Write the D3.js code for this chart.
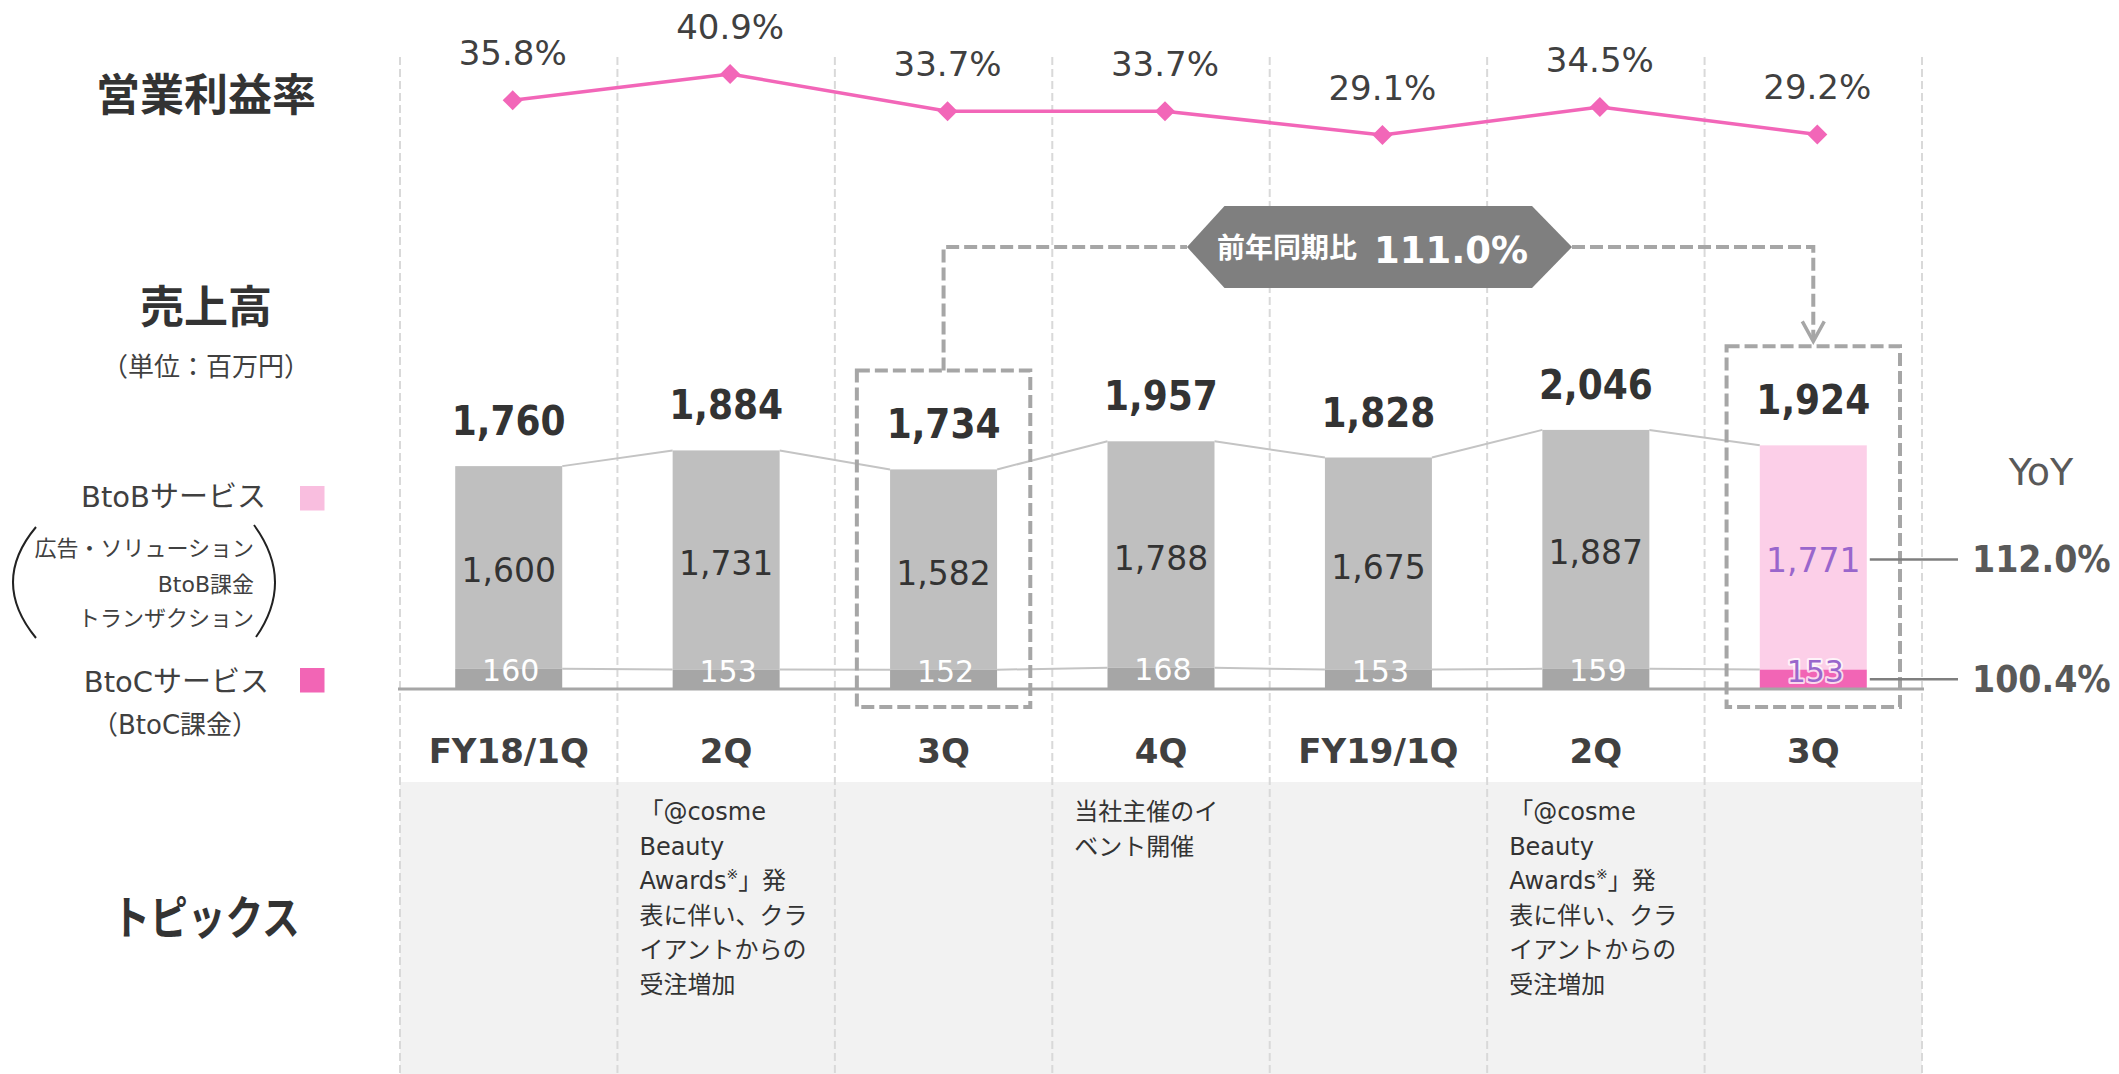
<!DOCTYPE html>
<html><head><meta charset="utf-8">
<script src="https://cdn.jsdelivr.net/npm/d3@7"></script>
<style>
html,body{margin:0;padding:0;background:#fff;}
svg{display:block;}
</style></head>
<body>
<svg id="chart" width="2119" height="1074"></svg>
<script>
// ---- data ----
const categories = ["FY18/1Q","2Q","3Q","4Q","FY19/1Q","2Q","3Q"];
const btobValues = [1600,1731,1582,1788,1675,1887,1771];
const btocValues = [160,153,152,168,153,159,153];
const totalValues = [1760,1884,1734,1957,1828,2046,1924];
const marginValues = [35.8,40.9,33.7,33.7,29.1,34.5,29.2];
const topicLines = [
  [],
  ["「@cosme","Beauty","Awards※」発","表に伴い、クラ","イアントからの","受注増加"],
  [],
  ["当社主催のイ","ベント開催"],
  [],
  ["「@cosme","Beauty","Awards※」発","表に伴い、クラ","イアントからの","受注増加"],
  []
];
const yoyLabels = ["112.0%","100.4%"];
const yoyTotalLabel = "111.0%";
const compareIndex = 2, highlightIndex = 6;

// ---- fonts / colors ----
const NUM = "'DejaVu Sans', sans-serif";
const NUMC = "'DejaVu Sans Condensed', 'DejaVu Sans', sans-serif";
const JP = "'Noto Sans CJK JP', sans-serif";
const MIX = "'DejaVu Sans', 'Noto Sans CJK JP', sans-serif";
const TXT = "#404040";

const svg = d3.select("#chart");
const W = 2119, H = 1074;

const x = d3.scaleBand().domain(d3.range(categories.length)).range([400, 1922]).paddingInner(0).paddingOuter(0);
const barW = 107;
const cx = i => x(i) + x.bandwidth() / 2;
const yBar = d3.scaleLinear().domain([0, 2200]).range([689, 410.4]);
const yPct = d3.scaleLinear().domain([0, 50]).range([285.4, 26.9]);

// topics background
svg.append("rect").attr("x", x.range()[0]).attr("y", 782)
  .attr("width", x.range()[1] - x.range()[0]).attr("height", H - 782).attr("fill", "#f2f2f2");

// dashed column separators
const seps = d3.range(categories.length + 1).map(i => x.range()[0] + i * x.step());
svg.append("g").selectAll("line").data(seps).join("line")
  .attr("x1", d => d).attr("x2", d => d).attr("y1", 57).attr("y2", H)
  .attr("stroke", "#d9d9d9").attr("stroke-width", 2).attr("stroke-dasharray", "8,4");

// bars
const stack = categories.map((c, i) => btocValues[i] + btobValues[i]);
const gb = svg.append("g");
categories.forEach((c, i) => {
  const hl = i === highlightIndex;
  gb.append("rect").attr("x", cx(i) - barW / 2).attr("width", barW)
    .attr("y", yBar(stack[i])).attr("height", yBar(btocValues[i]) - yBar(stack[i]))
    .attr("fill", hl ? "#fccfe8" : "#bfbfbf");
  gb.append("rect").attr("x", cx(i) - barW / 2).attr("width", barW)
    .attr("y", yBar(btocValues[i])).attr("height", yBar(0) - yBar(btocValues[i]))
    .attr("fill", hl ? "#f265b5" : "#a6a6a6");
});

// connectors between bars
const gc = svg.append("g").attr("stroke", "#c4c4c4").attr("stroke-width", 2);
for (let i = 0; i < categories.length - 1; i++) {
  gc.append("line").attr("x1", cx(i) + barW / 2).attr("y1", yBar(stack[i]))
    .attr("x2", cx(i + 1) - barW / 2).attr("y2", yBar(stack[i + 1]));
  gc.append("line").attr("x1", cx(i) + barW / 2).attr("y1", yBar(btocValues[i]))
    .attr("x2", cx(i + 1) - barW / 2).attr("y2", yBar(btocValues[i + 1]));
}

// baseline axis
svg.append("line").attr("x1", x.range()[0] - 2).attr("x2", x.range()[1] + 2)
  .attr("y1", yBar(0)).attr("y2", yBar(0)).attr("stroke", "#a6a6a6").attr("stroke-width", 3);

// value labels
const fmt = d3.format(",");
const gl = svg.append("g").attr("text-anchor", "middle");
categories.forEach((c, i) => {
  const hl = i === highlightIndex;
  gl.append("text").attr("x", cx(i)).attr("y", yBar(totalValues[i]) - 31)
    .attr("font-family", NUMC).attr("font-stretch", "condensed").attr("font-weight", "bold")
    .attr("font-size", 40).attr("fill", "#333").text(fmt(totalValues[i]));
  gl.append("text").attr("x", cx(i)).attr("y", (yBar(btocValues[i]) + yBar(stack[i])) / 2 + 15)
    .attr("font-family", NUM).attr("font-size", 33).attr("fill", hl ? "#9966cc" : "#333")
    .text(fmt(btobValues[i]));
  const t = gl.append("text").attr("x", cx(i) + 2).attr("y", yBar(btocValues[i]) + 12)
    .attr("font-family", NUM).attr("font-size", 30).attr("fill", hl ? "#9966cc" : "#fff")
    .text(fmt(btocValues[i]));
  if (hl) t.attr("stroke", "#fff").attr("stroke-width", 4).attr("stroke-opacity", 0.75)
    .attr("paint-order", "stroke").attr("stroke-linejoin", "round");
  gl.append("text").attr("x", cx(i)).attr("y", 763)
    .attr("font-family", NUM).attr("font-weight", "bold").attr("font-size", 34)
    .attr("fill", TXT).text(c);
});

// operating margin line
const px = i => cx(i) + 4;
svg.append("path").datum(marginValues)
  .attr("d", d3.line().x((d, i) => px(i)).y(d => yPct(d)))
  .attr("fill", "none").attr("stroke", "#f266b8").attr("stroke-width", 3.5).attr("stroke-linejoin", "round");
svg.append("g").selectAll("path").data(marginValues).join("path")
  .attr("d", "M0,-10L10,0L0,10L-10,0Z")
  .attr("transform", (d, i) => `translate(${px(i)},${yPct(d)})`)
  .attr("fill", "#f266b8");
svg.append("g").attr("text-anchor", "middle").selectAll("text").data(marginValues).join("text")
  .attr("x", (d, i) => px(i)).attr("y", d => yPct(d) - 35)
  .attr("font-family", NUM).attr("font-size", 34).attr("fill", TXT)
  .text(d => d.toFixed(1) + "%");

// dashed boxes
const grey = "#a6a6a6";
const boxTop = i => yBar(totalValues[i]) - 99;
[compareIndex, highlightIndex].forEach(i => {
  svg.append("rect").attr("x", x(i) + 22).attr("width", x.bandwidth() - 44)
    .attr("y", boxTop(i)).attr("height", 707 - boxTop(i))
    .attr("fill", "none").attr("stroke", grey).attr("stroke-width", 4).attr("stroke-dasharray", "13,5");
});

// callout connectors
const cy = 247;
const leftTip = 1187, rightTip = 1572;
svg.append("path")
  .attr("d", `M${cx(compareIndex)},${boxTop(compareIndex)}V${cy}H${leftTip}`)
  .attr("fill", "none").attr("stroke", grey).attr("stroke-width", 4).attr("stroke-dasharray", "13,5");
svg.append("path")
  .attr("d", `M${rightTip},${cy}H${cx(highlightIndex)}V${boxTop(highlightIndex) - 7}`)
  .attr("fill", "none").attr("stroke", grey).attr("stroke-width", 4).attr("stroke-dasharray", "13,5");
svg.append("path")
  .attr("d", `M${cx(highlightIndex) - 11},${boxTop(highlightIndex) - 25}L${cx(highlightIndex)},${boxTop(highlightIndex) - 5}L${cx(highlightIndex) + 11},${boxTop(highlightIndex) - 25}`)
  .attr("fill", "none").attr("stroke", grey).attr("stroke-width", 3.5);

// callout shape
svg.append("polygon")
  .attr("points", [[leftTip, cy], [1224.5, 206], [1532, 206], [rightTip, cy], [1532, 288], [1224.5, 288]].map(p => p.join(",")).join(" "))
  .attr("fill", "#7f7f7f");
svg.append("text").attr("x", 1217).attr("y", 258)
  .attr("font-family", JP).attr("font-weight", "bold").attr("font-size", 28).attr("fill", "#fff")
  .text("前年同期比");
svg.append("text").attr("x", 1374).attr("y", 263)
  .attr("font-family", NUM).attr("font-weight", "bold").attr("font-size", 37).attr("fill", "#fff")
  .text(yoyTotalLabel);

// YoY
const hx = cx(highlightIndex) + barW / 2;
const yoyY = [(yBar(btocValues[highlightIndex]) + yBar(stack[highlightIndex])) / 2 + 2,
              (yBar(btocValues[highlightIndex]) + yBar(0)) / 2];
svg.append("text").attr("x", 2041).attr("y", 485).attr("text-anchor", "middle")
  .attr("font-family", NUM).attr("font-size", 38).attr("fill", "#595959").text("YoY");
yoyLabels.forEach((lab, k) => {
  svg.append("line").attr("x1", hx + 3).attr("x2", 1958).attr("y1", yoyY[k]).attr("y2", yoyY[k])
    .attr("stroke", "#7f7f7f").attr("stroke-width", 2.5);
  svg.append("text").attr("x", 1972).attr("y", yoyY[k] + 13)
    .attr("font-family", NUMC).attr("font-stretch", "condensed").attr("font-weight", "bold")
    .attr("font-size", 37).attr("fill", "#595959").text(lab);
});

// topics text
const gt = svg.append("g").attr("font-family", MIX).attr("font-size", 24).attr("fill", "#333");
topicLines.forEach((lines, i) => {
  lines.forEach((ln, k) => {
    const t = gt.append("text").attr("x", x(i) + 22).attr("y", 820 + k * 34.6);
    if (ln.includes("※")) {
      const parts = ln.split("※");
      t.append("tspan").text(parts[0]);
      t.append("tspan").attr("font-size", 14).attr("dy", -10).text("※");
      t.append("tspan").attr("dy", 10).text(parts[1]);
    } else t.text(ln);
  });
});

// left-side labels
const L = svg.append("g").attr("fill", "#333");
L.append("text").attr("x", 206).attr("y", 111).attr("text-anchor", "middle")
  .attr("font-family", JP).attr("font-weight", "bold").attr("font-size", 44).text("営業利益率");
L.append("text").attr("x", 206).attr("y", 323).attr("text-anchor", "middle")
  .attr("font-family", JP).attr("font-weight", "bold").attr("font-size", 44).text("売上高");
L.append("text").attr("x", 206).attr("y", 376).attr("text-anchor", "middle")
  .attr("font-family", JP).attr("font-size", 26).attr("fill", TXT).text("（単位：百万円）");
L.append("text").attr("transform", "translate(206,934) scale(0.82,1)").attr("text-anchor", "middle")
  .attr("font-family", JP).attr("font-weight", "bold").attr("font-size", 46).text("トピックス");

// legend
L.append("text").attr("x", 266).attr("y", 507).attr("text-anchor", "end")
  .attr("font-family", MIX).attr("font-size", 29).attr("fill", TXT).text("BtoBサービス");
L.append("rect").attr("x", 300).attr("y", 486).attr("width", 24.5).attr("height", 24.5).attr("fill", "#f9bedf");
[["広告・ソリューション", 556], ["BtoB課金", 592], ["トランザクション", 626]].forEach(([s, yy]) => {
  L.append("text").attr("x", 254).attr("y", yy).attr("text-anchor", "end")
    .attr("font-family", MIX).attr("font-size", 22).attr("fill", TXT).text(s);
});
L.append("path").attr("d", "M36,527Q-10,582 36,638").attr("fill", "none").attr("stroke", "#222").attr("stroke-width", 2);
L.append("path").attr("d", "M254,525Q295,581 256,637").attr("fill", "none").attr("stroke", "#222").attr("stroke-width", 2);
L.append("text").attr("x", 269).attr("y", 692).attr("text-anchor", "end")
  .attr("font-family", MIX).attr("font-size", 29).attr("fill", TXT).text("BtoCサービス");
L.append("rect").attr("x", 300).attr("y", 668).attr("width", 24.5).attr("height", 24.5).attr("fill", "#f265b5");
L.append("text").attr("x", 175).attr("y", 734).attr("text-anchor", "middle")
  .attr("font-family", MIX).attr("font-size", 26).attr("fill", TXT).text("（BtoC課金）");
</script>
</body></html>
